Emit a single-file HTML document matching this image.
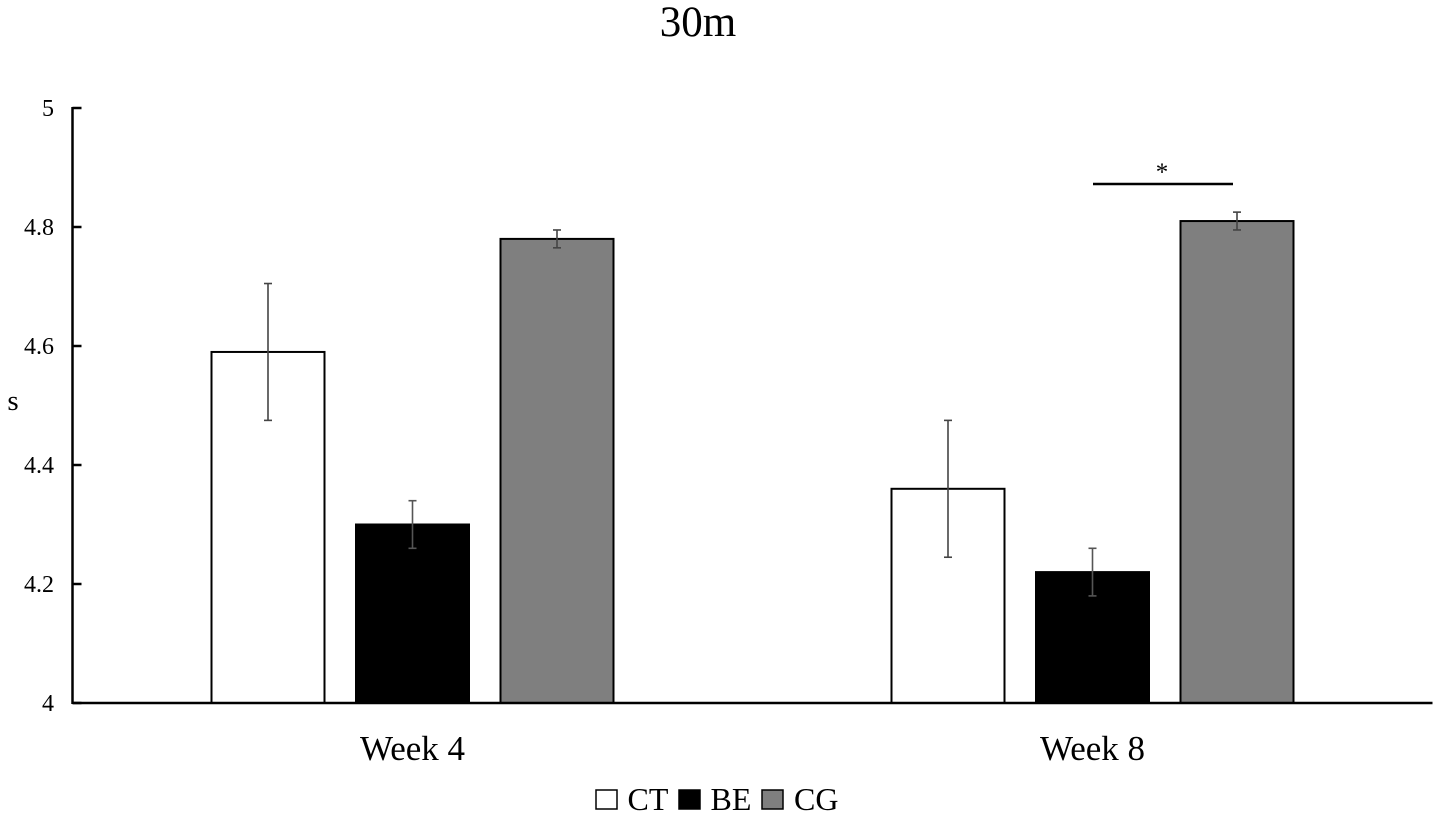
<!DOCTYPE html>
<html>
<head>
<meta charset="utf-8">
<style>
html,body{margin:0;padding:0;background:#fff;}
svg{display:block;font-family:"Liberation Serif",serif;fill:#000;}
</style>
</head>
<body>
<svg id="chart" width="1441" height="819" viewBox="0 0 1441 819" xmlns="http://www.w3.org/2000/svg">
<text x="698" y="36" font-size="43" text-anchor="middle">30m</text>
<text x="13" y="410" font-size="29" text-anchor="middle">s</text>
<g id="plot"></g>
<g>
<line x1="1093" y1="184" x2="1233" y2="184" stroke="#000" stroke-width="2.5"/>
<text x="1162" y="180" font-size="25" text-anchor="middle">*</text>
</g>
<g>
<rect x="596" y="790" width="21" height="19" fill="#fff" stroke="#000" stroke-width="1.5"/>
<text x="627.5" y="810" font-size="32">CT</text>
<rect x="679" y="790" width="21" height="19" fill="#000" stroke="#000" stroke-width="1.5"/>
<text x="710.5" y="810" font-size="32">BE</text>
<rect x="762" y="790" width="21" height="19" fill="#7f7f7f" stroke="#000" stroke-width="1.5"/>
<text x="794" y="810" font-size="32">CG</text>
</g>
</svg>
<script>
const categories = ["Week 4", "Week 8"];
const seriesNames = ["CT", "BE", "CG"];
const ctValues = [4.59, 4.36];
const beValues = [4.30, 4.22];
const cgValues = [4.78, 4.81];
const ctErrors = [0.115, 0.115];
const beErrors = [0.04, 0.04];
const cgErrors = [0.015, 0.015];
const yTicks = ["4", "4.2", "4.4", "4.6", "4.8", "5"];

const NS = "http://www.w3.org/2000/svg";
const plot = document.getElementById("plot");
const yMin = 4, yMax = 5, yBottom = 703, yTop = 108;
const xLeft = 72.5, xRight = 1432.5;
const fills = ["#fff", "#000", "#7f7f7f"];
const barWidth = 113, barStep = 144.5;
const seriesValues = [ctValues, beValues, cgValues];
const seriesErrors = [ctErrors, beErrors, cgErrors];

function yScale(v) { return yBottom - (v - yMin) / (yMax - yMin) * (yBottom - yTop); }
function groupCenter(i) { return xLeft + (xRight - xLeft) / categories.length * (i + 0.5); }
function make(tag, attrs) {
  const el = document.createElementNS(NS, tag);
  for (const k in attrs) el.setAttribute(k, attrs[k]);
  plot.appendChild(el);
  return el;
}

seriesValues.forEach(function (vals, s) {
  vals.forEach(function (v, c) {
    const cx = groupCenter(c) + (s - 1) * barStep;
    const bar = make("rect", { x: cx - barWidth / 2, y: yScale(v), width: barWidth, height: yBottom - yScale(v), fill: fills[s], stroke: "#000", "stroke-width": 2 });
    
    
    const e = seriesErrors[s][c];
    const errColor = s === 1 ? "#555" : "#444";
    const stem = make("line", { x1: cx, x2: cx, y1: yScale(v + e), y2: yScale(v - e), stroke: errColor, "stroke-width": 1.6 });
    
    
    [v + e, v - e].forEach(function (w) {
      const cap = make("line", { x1: cx - 4, x2: cx + 4, y1: yScale(w), y2: yScale(w), stroke: errColor, "stroke-width": 1.6 });
      
      
    });
  });
});

const yAxis = make("line", { x1: xLeft, x2: xLeft, y1: yTop - 1, y2: yBottom + 1, stroke: "#000", "stroke-width": 2.5 });


const xAxis = make("line", { x1: xLeft, x2: xRight, y1: yBottom, y2: yBottom, stroke: "#000", "stroke-width": 2.5 });



yTicks.forEach(function (t) {
  const y = yScale(parseFloat(t));
  const tick = make("line", { x1: xLeft, x2: xLeft + 9, y1: y, y2: y, stroke: "#000", "stroke-width": 2.5 });
  
  
  const label = make("text", { x: 54, y: y + 8, "font-size": 24, "text-anchor": "end" });
  
  
  label.textContent = t;
});

categories.forEach(function (c, i) {
  const label = make("text", { x: groupCenter(i), y: 760, "font-size": 35, "text-anchor": "middle" });
  
  
  label.textContent = c;
});
</script>
</body>
</html>
